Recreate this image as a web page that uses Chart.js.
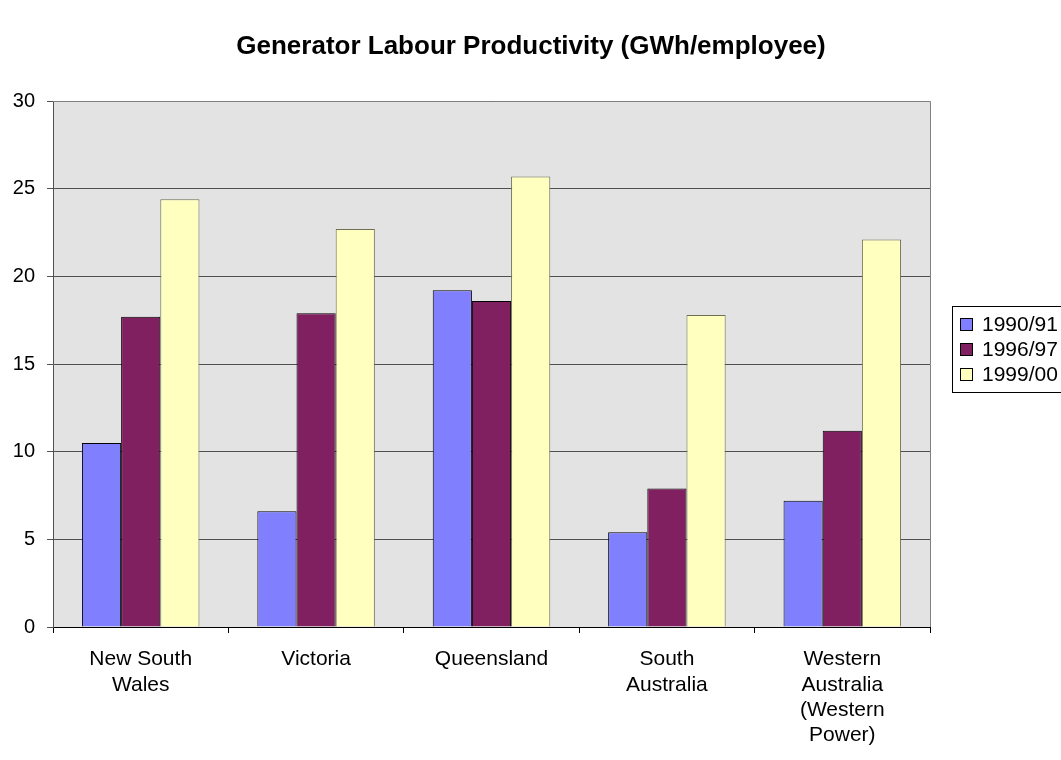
<!DOCTYPE html>
<html>
<head>
<meta charset="utf-8">
<title>Generator Labour Productivity</title>
<script src="https://cdn.jsdelivr.net/npm/chart.js@4.4.1/dist/chart.umd.min.js"></script>
<style>
  html, body { margin: 0; padding: 0; background: #fff; }
  #wrap { width: 1061px; height: 760px; position: relative; }
</style>
</head>
<body>
<div id="wrap"><canvas id="chart" width="1061" height="760"></canvas></div>
<script>
// productivity per state, GWh per employee
const categories = [
  ['New South', 'Wales'],
  'Victoria',
  'Queensland',
  ['South', 'Australia'],
  ['Western', 'Australia', '(Western', 'Power)']
];
const seriesNames = ['1990/91', '1996/97', '1999/00'];
const values9091 = [10.5, 6.6, 19.2, 5.4, 7.2];
const values9697 = [17.7, 17.9, 18.6, 7.9, 11.2];
const values9900 = [24.4, 22.7, 25.7, 17.8, 22.1];
const yMax = 30;
const yStep = 5;

const fills = ['#8080ff', '#802060', '#ffffc0'];
const edges = ['#000000', '#000000', '#6e6e55'];
const FONT = '"Liberation Sans", Arial, sans-serif';

// grey plot area + frame
const plotBg = {
  id: 'plotBg',
  beforeDraw(chart) {
    const {ctx, chartArea: a} = chart;
    ctx.save();
    ctx.fillStyle = '#e3e3e3';
    ctx.fillRect(a.left, a.top, a.right - a.left, a.bottom - a.top);
    ctx.restore();
  },
  afterDatasetsDraw(chart) {
    const {ctx, chartArea: a} = chart;
    ctx.save();
    ctx.strokeStyle = '#808080';
    ctx.lineWidth = 1;
    ctx.beginPath();
    ctx.moveTo(a.left, a.top + 0.5);
    ctx.lineTo(a.right + 0.5, a.top + 0.5);
    ctx.lineTo(a.right + 0.5, a.bottom);
    ctx.stroke();
    ctx.restore();
  }
};

// title and boxed legend on the right
const decor = {
  id: 'decor',
  afterDraw(chart) {
    const ctx = chart.ctx;
    ctx.save();
    ctx.fillStyle = '#000';
    ctx.font = 'bold 26px ' + FONT;
    ctx.textAlign = 'center';
    ctx.textBaseline = 'middle';
    ctx.fillText('Generator Labour Productivity (GWh/employee)', 531, 47);

    const bx = 952, by = 306;
    ctx.strokeStyle = '#000';
    ctx.lineWidth = 1;
    ctx.strokeRect(bx + 0.5, by + 0.5, 140, 86);
    ctx.font = '21px ' + FONT;
    ctx.textAlign = 'left';
    chart.data.datasets.forEach((ds, i) => {
      const y = by + 18 + i * 25;
      ctx.fillStyle = ds.backgroundColor;
      ctx.fillRect(960, y - 6, 13, 13);
      ctx.strokeStyle = '#000';
      ctx.strokeRect(960.5, y - 5.5, 12, 12);
      ctx.fillStyle = '#000';
      ctx.fillText(ds.label, 982, y + 1);
    });
    ctx.restore();
  }
};

const datasets = [values9091, values9697, values9900].map((vals, i) => ({
  label: seriesNames[i],
  data: vals,
  backgroundColor: fills[i],
  borderColor: edges[i],
  borderWidth: 1,
  barPercentage: 1.0,
  categoryPercentage: 0.67
}));

new Chart(document.getElementById('chart'), {
  type: 'bar',
  data: { labels: categories, datasets },
  options: {
    responsive: false,
    animation: false,
    layout: { padding: { top: 101, right: 131, left: 0, bottom: 0 } },
    plugins: {
      legend: { display: false },
      title: { display: false },
      tooltip: { enabled: false }
    },
    scales: {
      x: {
        afterFit(scale) { scale.height = 133; },
        grid: {
          offset: true,
          drawOnChartArea: false,
          drawTicks: true,
          tickLength: 6,
          color: '#000'
        },
        border: { color: '#000', width: 1 },
        ticks: {
          color: '#000',
          padding: 14,
          maxRotation: 0,
          autoSkip: false,
          font: { family: FONT, size: 21, lineHeight: 1.2 }
        }
      },
      y: {
        min: 0,
        max: yMax,
        afterFit(scale) { scale.width = 53; },
        grid: {
          color: '#505050',
          drawTicks: true,
          tickLength: 6
        },
        border: { color: '#505050', width: 1 },
        ticks: {
          stepSize: yStep,
          color: '#000',
          padding: 12,
          font: { family: FONT, size: 20 }
        }
      }
    }
  },
  plugins: [plotBg, decor]
});
</script>
</body>
</html>
